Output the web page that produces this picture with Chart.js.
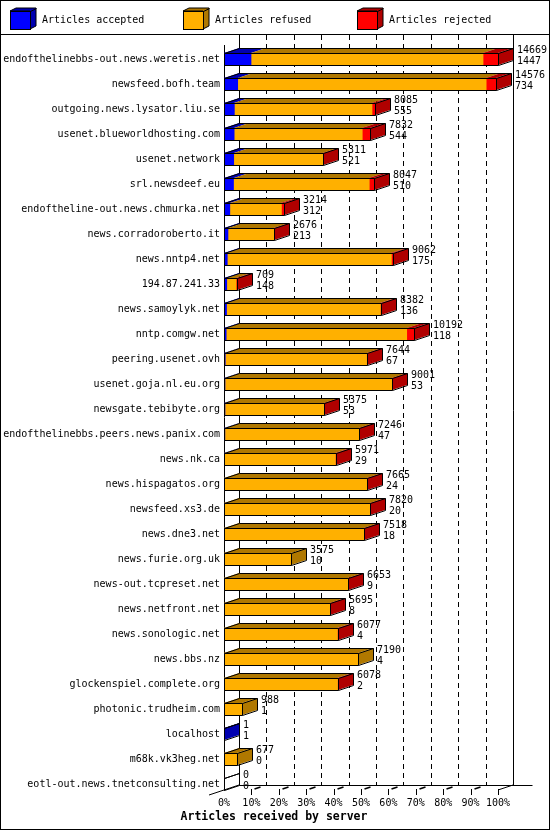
<!DOCTYPE html>
<html>
<head>
<meta charset="utf-8">
<script src="https://cdn.jsdelivr.net/npm/chart.js@4.4.1/dist/chart.umd.min.js"></script>
<style>
  html, body { margin: 0; padding: 0; background: #fff; }
  canvas { display: block; }
</style>
</head>
<body>
<canvas id="myChart" width="550" height="830"></canvas>
<script>
/* Articles received by server */
const servers = [
  'endofthelinebbs-out.news.weretis.net',
  'newsfeed.bofh.team',
  'outgoing.news.lysator.liu.se',
  'usenet.blueworldhosting.com',
  'usenet.network',
  'srl.newsdeef.eu',
  'endoftheline-out.news.chmurka.net',
  'news.corradoroberto.it',
  'news.nntp4.net',
  '194.87.241.33',
  'news.samoylyk.net',
  'nntp.comgw.net',
  'peering.usenet.ovh',
  'usenet.goja.nl.eu.org',
  'newsgate.tebibyte.org',
  'endofthelinebbs.peers.news.panix.com',
  'news.nk.ca',
  'news.hispagatos.org',
  'newsfeed.xs3.de',
  'news.dne3.net',
  'news.furie.org.uk',
  'news-out.tcpreset.net',
  'news.netfront.net',
  'news.sonologic.net',
  'news.bbs.nz',
  'glockenspiel.complete.org',
  'photonic.trudheim.com',
  'localhost',
  'm68k.vk3heg.net',
  'eotl-out.news.tnetconsulting.net'
];

// total articles offered (upper label)
const totals = [14669, 14576, 8085, 7832, 5311, 8047, 3214, 2676, 9062, 709,
  8382, 10192, 7644, 9001, 5375, 7246, 5971, 7665, 7820, 7518,
  3575, 6653, 5695, 6077, 7190, 6078, 988, 1, 677, 0];

// accepted (lower label)
const accepted = [1447, 734, 555, 544, 521, 510, 312, 213, 175, 148,
  136, 118, 67, 53, 53, 47, 29, 24, 20, 18,
  10, 9, 8, 4, 4, 2, 1, 1, 0, 0];

const refused = [12422, 13302, 7370, 6858, 4770, 7267, 2762, 2453, 8787, 501,
  8236, 9664, 7567, 8938, 5312, 7189, 5932, 7631, 7790, 7490,
  3565, 6634, 5677, 6063, 7186, 6071, 987, 0, 677, 0];

const rejected = [800, 540, 160, 430, 20, 270, 140, 10, 100, 60,
  10, 410, 10, 10, 10, 10, 10, 10, 10, 10,
  0, 10, 10, 10, 0, 5, 0, 0, 0, 0];

const seriesNames = ['Articles accepted', 'Articles refused', 'Articles rejected'];
const frontColors = ['#0000ff', '#ffb000', '#ff0000'];
const darkColors = ['#0000b0', '#b07800', '#b00000'];

const maxTotal = Math.max(...totals);
const toPct = arr => arr.map(v => v / maxTotal * 100);
const series = [accepted, refused, rejected];

const MONO = '"DejaVu Sans Mono", "Liberation Mono", monospace';
const DX = 15, DY = 5;

const px = v => Math.round(v) + 0.5;

const threeD = {
  id: 'threeD',
  beforeDraw(chart) {
    const ctx = chart.ctx;
    ctx.save();
    ctx.fillStyle = '#fff';
    ctx.fillRect(0, 0, chart.width, chart.height);
    ctx.restore();
  },
  beforeDatasetsDraw(chart) {
    const ctx = chart.ctx;
    const xs = chart.scales.x;
    const left = xs.getPixelForValue(0);
    const right = xs.getPixelForValue(100);
    const floorY = 790, topY = 35;
    ctx.save();
    ctx.strokeStyle = '#000';
    ctx.lineWidth = 1;
    // dashed grid on the back wall
    ctx.setLineDash([5, 4]);
    for (let p = 10; p < 100; p += 10) {
      const x = px(xs.getPixelForValue(p) + DX);
      ctx.beginPath();
      ctx.moveTo(x, topY);
      ctx.lineTo(x, floorY - DY);
      ctx.stroke();
    }
    ctx.setLineDash([]);
    ctx.beginPath();
    // back left, back right walls
    ctx.moveTo(px(left + DX), topY);
    ctx.lineTo(px(left + DX), floorY - DY + 0.5);
    ctx.moveTo(px(right + DX), topY);
    ctx.lineTo(px(right + DX), floorY - DY + 0.5);
    // front left axis
    ctx.moveTo(px(left), 45);
    ctx.lineTo(px(left), floorY);
    // floor
    ctx.moveTo(px(left + DX), floorY - DY + 0.5);
    ctx.lineTo(px(right + DX + 19), floorY - DY + 0.5);
    ctx.moveTo(left - 15, floorY + 5);
    ctx.lineTo(left + DX, floorY - DY);
    ctx.moveTo(right, floorY);
    ctx.lineTo(right + DX, floorY - DY);
    ctx.stroke();
    // ticks on the front edge
    for (let p = 10; p <= 100; p += 10) {
      const x = px(xs.getPixelForValue(p));
      ctx.beginPath();
      ctx.moveTo(x, floorY - 1);
      ctx.lineTo(x, floorY + 5);
      ctx.stroke();
      if (p < 100) {
        ctx.beginPath();
        ctx.lineWidth = 1.5;
        ctx.moveTo(x + 3, floorY - 1);
        ctx.lineTo(x + 9, floorY - 3);
        ctx.stroke();
        ctx.lineWidth = 1;
      }
    }
    ctx.restore();
  },
  afterDatasetsDraw(chart) {
    const ctx = chart.ctx;
    const metas = [0, 1, 2].map(d => chart.getDatasetMeta(d));
    ctx.save();
    ctx.lineWidth = 1;
    ctx.strokeStyle = '#000';
    for (let i = 0; i < servers.length; i++) {
      const els = metas.map(m => m.data[i]);
      const yc = els[0].y;
      const h = 12;
      const top = Math.round(yc - h / 2);
      const bottom = top + h;
      const x0 = Math.round(els[0].base);
      let xe = x0;
      let last = -1;
      // top faces per segment
      els.forEach((el, d) => {
        if (series[d][i] <= 0) return;
        const a = Math.round(el.base), b = Math.round(el.x);
        ctx.fillStyle = darkColors[d];
        ctx.beginPath();
        ctx.moveTo(a, top);
        ctx.lineTo(b, top);
        ctx.lineTo(b + DX, top - DY);
        ctx.lineTo(a + DX, top - DY);
        ctx.closePath();
        ctx.fill();
        last = d;
        xe = b;
      });
      // side face
      if (last >= 0) {
        ctx.fillStyle = darkColors[last];
        ctx.beginPath();
        ctx.moveTo(xe, top);
        ctx.lineTo(xe + DX, top - DY);
        ctx.lineTo(xe + DX, bottom - DY);
        ctx.lineTo(xe, bottom);
        ctx.closePath();
        ctx.fill();
      }
      // outlines
      ctx.beginPath();
      ctx.moveTo(x0 + 0.5, bottom + 0.5);
      ctx.lineTo(x0 + 0.5, top + 0.5);
      ctx.lineTo(x0 + DX + 0.5, top - DY + 0.5);
      ctx.lineTo(xe + DX + 0.5, top - DY + 0.5);
      ctx.lineTo(xe + DX + 0.5, bottom - DY + 0.5);
      ctx.lineTo(xe + 0.5, bottom + 0.5);
      ctx.closePath();
      ctx.moveTo(x0 + 0.5, top + 0.5);
      ctx.lineTo(xe + 0.5, top + 0.5);
      ctx.lineTo(xe + DX + 0.5, top - DY + 0.5);
      ctx.moveTo(xe + 0.5, top + 0.5);
      ctx.lineTo(xe + 0.5, bottom + 0.5);
      ctx.stroke();
      // value labels
      ctx.fillStyle = '#000';
      ctx.font = '10px ' + MONO;
      ctx.textAlign = 'left';
      ctx.textBaseline = 'middle';
      ctx.fillText(String(totals[i]), xe + DX + 4, yc - 9);
      ctx.fillText(String(accepted[i]), xe + DX + 4, yc + 2);
    }
    ctx.restore();
  },
  afterDraw(chart) {
    const ctx = chart.ctx;
    ctx.save();
    ctx.strokeStyle = '#000';
    ctx.lineWidth = 1;
    ctx.strokeRect(0.5, 0.5, chart.width - 1, chart.height - 1);
    ctx.beginPath();
    ctx.moveTo(0, 34.5);
    ctx.lineTo(chart.width, 34.5);
    ctx.stroke();
    // legend with little cubes
    const boxX = [10, 183, 357];
    ctx.font = '10px ' + MONO;
    ctx.textBaseline = 'middle';
    ctx.textAlign = 'left';
    boxX.forEach((bx, d) => {
      const t = 11, w = 20, hh = 18, dx = 6, dy = 3;
      ctx.fillStyle = darkColors[d];
      ctx.beginPath();
      ctx.moveTo(bx, t);
      ctx.lineTo(bx + dx, t - dy);
      ctx.lineTo(bx + w + dx, t - dy);
      ctx.lineTo(bx + w + dx, t + hh - dy);
      ctx.lineTo(bx + w, t + hh);
      ctx.lineTo(bx + w, t);
      ctx.closePath();
      ctx.fill();
      ctx.stroke();
      ctx.fillStyle = frontColors[d];
      ctx.fillRect(bx, t, w, hh);
      ctx.strokeRect(bx + 0.5, t + 0.5, w, hh);
      ctx.beginPath();
      ctx.moveTo(bx + w + 0.5, t + 0.5);
      ctx.lineTo(bx + w + dx + 0.5, t - dy + 0.5);
      ctx.stroke();
      ctx.fillStyle = '#000';
      ctx.fillText(seriesNames[d], bx + 32, 20);
    });
    // axis title
    ctx.font = 'bold 11.5px ' + MONO;
    ctx.textAlign = 'center';
    ctx.fillText('Articles received by server', 274, 817);
    ctx.restore();
  }
};

const config = {
  type: 'bar',
  data: {
    labels: servers,
    datasets: series.map((arr, d) => ({
      label: seriesNames[d],
      data: toPct(arr),
      backgroundColor: frontColors[d],
      borderWidth: 0,
      barThickness: 12
    }))
  },
  options: {
    indexAxis: 'y',
    responsive: false,
    animation: false,
    layout: { padding: { top: 46.5, right: 52, bottom: 0, left: 0 } },
    plugins: {
      legend: { display: false },
      tooltip: { enabled: false }
    },
    scales: {
      x: {
        stacked: true,
        min: 0,
        max: 100,
        grid: { display: false, drawTicks: false },
        border: { display: false },
        ticks: {
          stepSize: 10,
          color: '#000',
          padding: 1,
          maxRotation: 0,
          font: { family: MONO, size: 10 },
          callback: v => v + '%'
        },
        afterFit: s => { s.height = 33.5; }
      },
      y: {
        stacked: true,
        grid: { display: false, drawTicks: false },
        border: { display: false },
        ticks: {
          color: '#000',
          padding: 4,
          autoSkip: false,
          font: { family: MONO, size: 10 }
        },
        afterFit: s => { s.width = 224; }
      }
    }
  },
  plugins: [threeD]
};

const myChart = new Chart(document.getElementById('myChart'), config);
</script>
</body>
</html>
